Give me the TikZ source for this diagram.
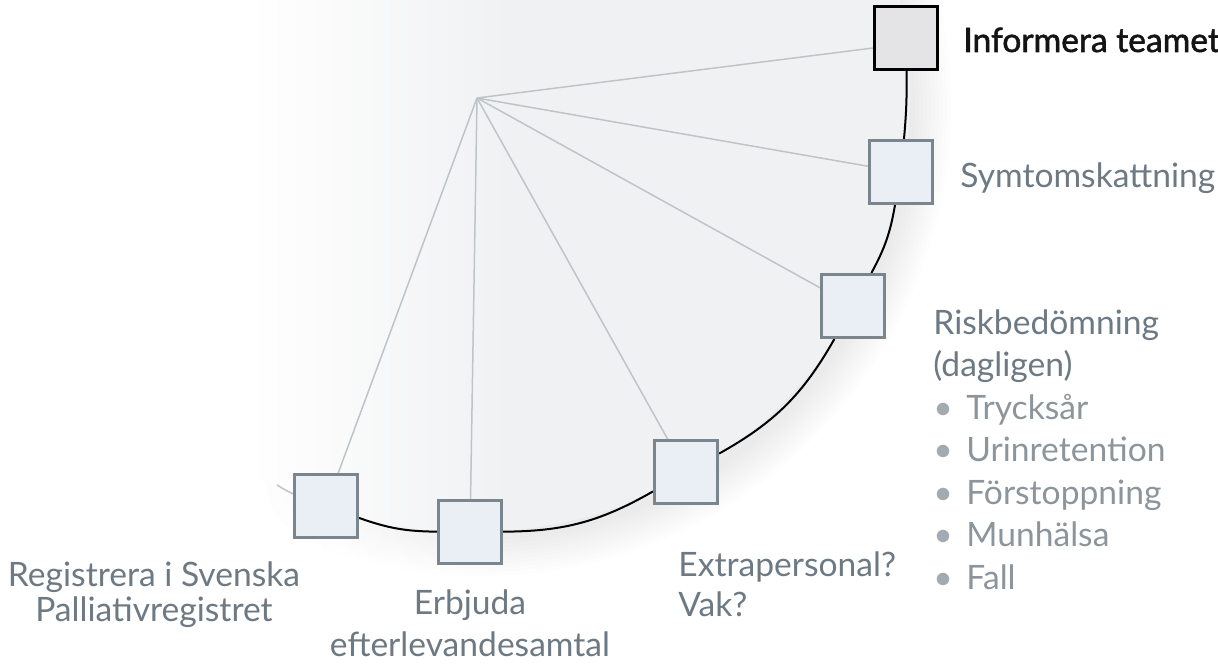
\documentclass[tikz,border=0pt]{standalone}
\usepackage{fontspec}
\setmainfont{Lato}
\newfontfamily\semib[FakeBold=1.6]{Lato}
\usetikzlibrary{backgrounds,fadings,calc}
\definecolor{txt}{HTML}{6D7983}
\definecolor{txtl}{HTML}{8C959C}
\definecolor{bul}{HTML}{A3AAB0}
\definecolor{boxfill}{HTML}{E9EFF5}
\definecolor{boxline}{HTML}{7A858E}
\definecolor{topfill}{HTML}{E4E4E6}
\definecolor{disk}{HTML}{F0F1F3}
\definecolor{raycol}{HTML}{BFC4C9}
\tikzfading[name=fadeout right, left color=transparent!0, right color=transparent!100]
\begin{document}
\begin{tikzpicture}[x=0.5pt,y=-0.5pt,
  stepbox/.style={draw=boxline, fill=boxfill, line width=1.5pt, minimum size=31.5pt, inner sep=0pt},
  topbox/.style={draw=black, fill=topfill, line width=1.5pt, minimum size=31.5pt, inner sep=0pt},
  ray/.style={draw=raycol, line width=0.75pt},
  flow/.style={draw=black, line width=1pt},
  lbl/.style={text=txt, font=\fontsize{16.8}{20}\selectfont, inner sep=0pt},
]
\useasboundingbox (0,0) rectangle (1218,663);
% nodes
\node[topbox] (b1) at (906,38) {};
\node[stepbox] (b2) at (901,172) {};
\node[stepbox] (b3) at (853,306) {};
\node[stepbox] (b4) at (686,472) {};
\node[stepbox] (b5) at (470,532) {};
\node[stepbox] (b6) at (326,506) {};
\coordinate (hub) at (477,98);
\coordinate (dc) at (472,94);
\coordinate (stub) at (277,485);

% labels
\node[lbl, text=black!92, anchor=base west] (t1) at (963,52) {\semib Informera teamet};
\node[lbl, anchor=base west] (t2) at (960,188) {Symtomskattning};
\node[lbl, anchor=north west, align=left, font=\fontsize{16.8}{21.25}\selectfont] (t3) at (933,309)
  {Riskbedömning\\
   (dagligen)\\
   {\color{txtl}\makebox[16.5pt][l]{\color{bul}\textbullet}Trycksår}\\
   {\color{txtl}\makebox[16.5pt][l]{\color{bul}\textbullet}Urinretention}\\
   {\color{txtl}\makebox[16.5pt][l]{\color{bul}\textbullet}Förstoppning}\\
   {\color{txtl}\makebox[16.5pt][l]{\color{bul}\textbullet}Munhälsa}\\
   {\color{txtl}\makebox[16.5pt][l]{\color{bul}\textbullet}Fall}};
\node[lbl, anchor=north west, align=left] (t4) at (678,551) {Extrapersonal?\\Vak?};
\node[lbl, anchor=north, align=center, font=\fontsize{16.8}{17.5}\selectfont] (t6) at (154,561) {Registrera i Svenska\\Palliativregistret};
\node[lbl, anchor=north, align=center, font=\fontsize{16.8}{21}\selectfont] (t5) at (470,589) {Erbjuda\\efterlevandesamtal};

\begin{pgfonlayer}{background}
  % soft shadow of the disk
  \foreach \k in {0,...,9}
    \fill[black, opacity=0.007] ($(dc)+(9,12)$) circle[radius=434+\k*4];
  \fill[disk] (dc) circle[radius=438];
  % fade to white on the left
  \fill[white] (-5,-5) rectangle (260,670);
  \fill[white, path fading=fadeout right] (259,-5) rectangle (520,670);
  % radial lines
  \draw[ray] (hub) -- ($(b1.west)+(0,10)$);
  \draw[ray] (hub) -- (b2);
  \draw[ray] (hub) -- (b3);
  \draw[ray] (hub) -- (b4);
  \draw[ray] (hub) -- (b5);
  \draw[ray] (hub) -- (b6);
  % the black path along the circle
  \draw[flow] (b1) to[bend left=3] (b2);
  \draw[flow] (b2) to[bend left=9.4] (b3);
  \draw[flow] (b3) to[bend left=15.7] (b4);
  \draw[flow] (b4) to[bend left=14.9] (b5);
  \draw[flow] (b5) to[bend left=9.6] (b6);
  \draw[ray] (b6) to[bend left=3] (stub);
\end{pgfonlayer}
\end{tikzpicture}
\end{document}
